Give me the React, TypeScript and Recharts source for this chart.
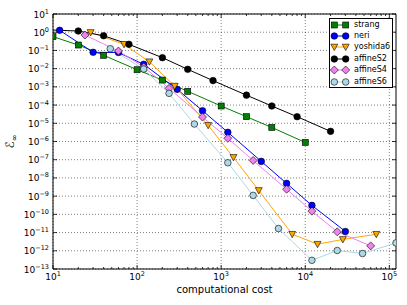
import React from 'react';
import { LineChart, Line, XAxis, YAxis, CartesianGrid, Legend, ReferenceArea } from 'recharts';

// cost / error pairs
const STRANG_COST = [10, 20, 40, 100, 200, 400, 1000, 2000, 4000, 10000];
const STRANG_ERR = [0.57, 0.198, 0.054, 8.7e-3, 2.36e-3, 5.7e-4, 8.9e-5, 2.3e-5, 5.9e-6, 8.9e-7];

const NERI_COST = [12, 30, 60, 120, 300, 600, 1200, 3000, 6000, 12000, 30000];
const NERI_ERR = [1.27, 0.079, 0.077, 0.0172, 7.3e-4, 4.9e-5, 3.2e-6, 8.1e-8, 5e-9, 3.1e-10, 1.15e-11];

const YOSHIDA6_COST = [28, 70, 140, 280, 700, 1400, 2800, 7000, 14000, 28000, 70000];
const YOSHIDA6_ERR = [0.97, 0.216, 0.024, 1.1e-3, 7.7e-6, 1.34e-7, 2.06e-9, 8.1e-12, 2.3e-12, 4.2e-12, 8.1e-12];

const AFFINES2_COST = [8, 20, 40, 80, 200, 400, 800, 2000, 4000, 8000, 20000];
const AFFINES2_ERR = [1.37, 1.16, 0.64, 0.216, 0.04, 9.2e-3, 2.2e-3, 3.5e-4, 8.9e-5, 2.3e-5, 3.6e-6];

const AFFINES4_COST = [24, 60, 120, 240, 600, 1200, 2400, 6000, 12000, 24000, 60000];
const AFFINES4_ERR = [0.7, 0.093, 0.0123, 8.3e-4, 2.2e-5, 1.5e-6, 9.1e-8, 2.4e-9, 1.5e-10, 1.1e-11, 1.86e-12];

const AFFINES6_COST = [48, 120, 240, 480, 1200, 2400, 4800, 12000, 24000, 48000, 120000];
const AFFINES6_ERR = [0.124, 9.5e-3, 4.4e-4, 9.1e-6, 6.8e-8, 1.1e-9, 1.67e-11, 3.0e-13, 1.04e-12, 7.1e-13, 2.7e-12];

const X_MAJOR = [10, 100, 1000, 10000, 100000];
const X_MINOR = X_MAJOR.flatMap(d => [2, 3, 4, 5, 6, 7, 8, 9].map(k => k * d)).filter(v => v < 120000);
const Y_TICKS = [10, 1, 1e-1, 1e-2, 1e-3, 1e-4, 1e-5, 1e-6, 1e-7, 1e-8, 1e-9, 1e-10, 1e-11, 1e-12, 1e-13];

const W = 407;
const H = 305;
const Y_W = 53;
const X_H = 36;
const MARGIN = { top: 14, right: 11, left: 0, bottom: 0 };
const PLOT_W = W - Y_W - MARGIN.right;
const PLOT_H = H - MARGIN.top - X_H;
const FONT = '"DejaVu Sans", sans-serif';

const zip = (xs: number[], ys: number[]) => xs.map((x, i) => ({ x, y: ys[i] }));

type Shape = 'square' | 'circle' | 'tri' | 'diamond';

const SERIES: { name: string; data: { x: number; y: number }[]; color: string; shape: Shape }[] = [
  { name: 'strang', data: zip(STRANG_COST, STRANG_ERR), color: '#008000', shape: 'square' },
  { name: 'neri', data: zip(NERI_COST, NERI_ERR), color: '#0000ff', shape: 'circle' },
  { name: 'yoshida6', data: zip(YOSHIDA6_COST, YOSHIDA6_ERR), color: '#ffa500', shape: 'tri' },
  { name: 'affineS2', data: zip(AFFINES2_COST, AFFINES2_ERR), color: '#000000', shape: 'circle' },
  { name: 'affineS4', data: zip(AFFINES4_COST, AFFINES4_ERR), color: '#ee82ee', shape: 'diamond' },
  { name: 'affineS6', data: zip(AFFINES6_COST, AFFINES6_ERR), color: '#add8e6', shape: 'circle' },
];
const ORDER = SERIES.map(s => s.name);

const Marker = ({ shape, cx, cy, fill }: { shape: Shape; cx: number; cy: number; fill: string }) => {
  const common = { fill, stroke: '#000', strokeWidth: 0.6 };
  if (shape === 'square') return <rect x={cx - 3} y={cy - 3} width={6} height={6} {...common} />;
  if (shape === 'tri')
    return <polygon points={`${cx - 3.5},${cy - 2.8} ${cx + 3.5},${cy - 2.8} ${cx},${cy + 3.5}`} {...common} />;
  if (shape === 'diamond')
    return <polygon points={`${cx},${cy - 4} ${cx + 4},${cy} ${cx},${cy + 4} ${cx - 4},${cy}`} {...common} />;
  return <circle cx={cx} cy={cy} r={3.3} {...common} />;
};

const expOf = (v: number) => {
  const e = Math.round(Math.log10(v));
  return e < 0 ? `\u2212${-e}` : `${e}`;
};

const XTick = (props: any) => {
  const { x, y, payload } = props;
  const major = X_MAJOR.includes(payload.value);
  const len = major ? 4 : 2;
  return (
    <g>
      <line x1={x} x2={x} y1={y} y2={y - len} stroke="#000" strokeWidth={0.8} />
      <line x1={x} x2={x} y1={y - PLOT_H} y2={y - PLOT_H + len} stroke="#000" strokeWidth={0.8} />
      {major && (
        <text x={x} y={y + 11} textAnchor="middle" fontFamily={FONT} fontSize={9} fill="#000">
          10<tspan dy={-4} fontSize={6.5}>{expOf(payload.value)}</tspan>
        </text>
      )}
    </g>
  );
};

const YTick = (props: any) => {
  const { x, y, payload } = props;
  return (
    <g>
      <line x1={x} x2={x + 4} y1={y} y2={y} stroke="#000" strokeWidth={0.8} />
      <line x1={x + PLOT_W} x2={x + PLOT_W - 4} y1={y} y2={y} stroke="#000" strokeWidth={0.8} />
      <text x={x - 4} y={y + 3.5} textAnchor="end" fontFamily={FONT} fontSize={9} fill="#000">
        10<tspan dy={-4} fontSize={6.5}>{expOf(payload.value)}</tspan>
      </text>
    </g>
  );
};

const YLabel = (props: any) => {
  const { viewBox } = props;
  const cy = viewBox.y + viewBox.height / 2;
  return (
    <text transform={`translate(14, ${cy}) rotate(-90)`} textAnchor="middle" fontFamily={FONT} fontSize={12} fill="#000">
      ℰ<tspan dy={3} fontSize={8}>∞</tspan>
    </text>
  );
};

const renderLegend = (props: any) => {
  const payload = [...(props.payload || [])].sort((a: any, b: any) => ORDER.indexOf(a.value) - ORDER.indexOf(b.value));
  return (
    <div style={{ border: '1px solid #000', background: '#fff', padding: '0 2px 0 0', fontFamily: FONT, fontSize: 8, lineHeight: 1 }}>
      {payload.map((entry: any) => {
        const s = SERIES.find(d => d.name === entry.value)!;
        return (
          <div key={entry.value} style={{ display: 'flex', alignItems: 'center', height: 11.4 }}>
            <svg width={22} height={10} style={{ display: 'block' }}>
              <line x1={4.3} x2={15.7} y1={5} y2={5} stroke={s.color} strokeWidth={1} />
              <Marker shape={s.shape} cx={4.3} cy={5} fill={s.color} />
              <Marker shape={s.shape} cx={15.7} cy={5} fill={s.color} />
            </svg>
            <span style={{ marginLeft: 2 }}>{entry.value}</span>
          </div>
        );
      })}
    </div>
  );
};

export default function App() {
  return (
    <div style={{ position: 'absolute', left: 0, top: 0 }}>
      <LineChart width={W} height={H} margin={MARGIN}>
        <CartesianGrid
          horizontalValues={Y_TICKS}
          verticalValues={X_MAJOR}
          stroke="#000"
          strokeWidth={0.5}
          strokeDasharray="1 2"
        />
        <XAxis
          dataKey="x"
          type="number"
          scale="log"
          domain={[10, 120000]}
          allowDataOverflow
          ticks={[...X_MAJOR, ...X_MINOR]}
          interval={0}
          tick={<XTick />}
          tickLine={false}
          axisLine={false}
          tickSize={0}
          tickMargin={0}
          height={X_H}
          label={{ value: 'computational cost', position: 'insideBottom', offset: 12, fill: '#000', fontSize: 10, fontFamily: FONT }}
        />
        <YAxis
          dataKey="y"
          type="number"
          scale="log"
          domain={[1e-13, 10]}
          allowDataOverflow
          ticks={Y_TICKS}
          interval={0}
          tick={<YTick />}
          tickLine={false}
          axisLine={false}
          tickSize={0}
          tickMargin={0}
          width={Y_W}
          label={{ content: <YLabel /> }}
        />
        {SERIES.map(s => (
          <Line
            key={s.name}
            name={s.name}
            data={s.data}
            dataKey="y"
            stroke={s.color}
            strokeWidth={1}
            isAnimationActive={false}
            activeDot={false}
            dot={(p: any) => <Marker key={`${s.name}-${p.index}`} shape={s.shape} cx={p.cx} cy={p.cy} fill={s.color} />}
          />
        ))}
        <ReferenceArea x1={10} x2={120000} y1={1e-13} y2={10} fill="none" stroke="#000" strokeWidth={1} />
        <Legend
          layout="vertical"
          align="center"
          verticalAlign="middle"
          content={renderLegend}
          wrapperStyle={{ left: 329, top: 18, width: 'auto', height: 'auto' }}
        />
      </LineChart>
    </div>
  );
}
